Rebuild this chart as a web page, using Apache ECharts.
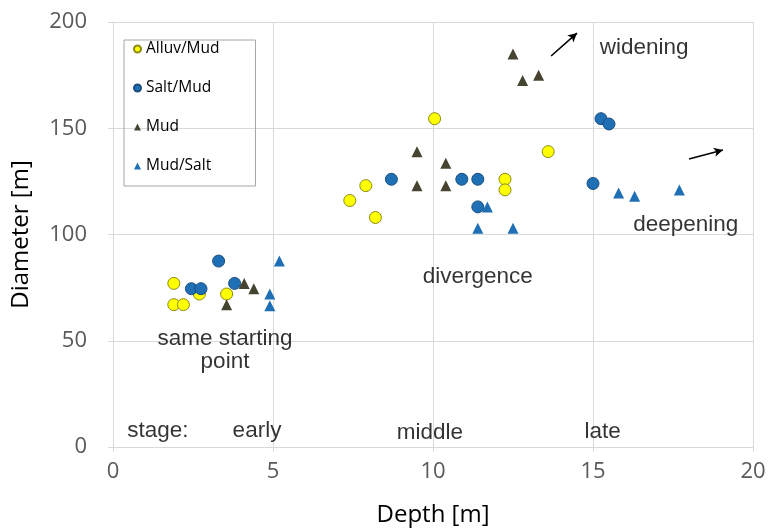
<!DOCTYPE html>
<html>
<head>
<meta charset="utf-8">
<script src="https://cdn.jsdelivr.net/npm/echarts@6/dist/echarts.min.js"></script>
<style>
  html, body { margin: 0; padding: 0; background: #fff; }
  #main { width: 771px; height: 531px; }
</style>
</head>
<body>
<div id="main"></div>
<script>
// data: [depth, diameter]
const alluvMud = [[1.9, 77], [1.9, 67], [2.2, 67], [2.7, 72], [3.55, 72], [7.4, 116], [7.9, 123], [8.2, 108], [10.05, 154.5], [12.25, 126], [12.25, 121], [13.6, 139]];
const saltMud = [[2.45, 74.5], [2.75, 74.5], [3.3, 87.5], [3.8, 77], [8.7, 126], [10.9, 126], [11.4, 126], [11.4, 113], [15.0, 124], [15.25, 154.5], [15.5, 152]];
const mud = [[3.55, 67], [4.1, 77], [4.4, 74.5], [9.5, 139], [10.4, 133.5], [9.5, 123], [10.4, 123], [12.5, 185], [12.8, 172.5], [13.3, 175]];
const mudSalt = [[4.9, 72], [4.9, 66.5], [5.2, 87.5], [11.7, 113], [11.4, 103], [12.5, 103], [15.8, 119.5], [16.3, 118], [17.7, 121]];

// annotation texts and where they sit (data coords)
const noteText = ["widening", "deepening", "divergence", "same starting\npoint", "stage:", "early", "middle", "late"];
const notePos = [[16.6, 188], [17.9, 104.5], [11.4, 80], [3.5, 45.5], [1.4, 7.5], [4.5, 7.5], [9.9, 6.5], [15.3, 7]];

// arrows: [from, to]
const arrows = [[[13.69, 184], [14.5, 194.8]], [[18.0, 135.5], [19.06, 139.8]]];

const myChart = echarts.init(document.getElementById("main"));

const labelFont = "'Open Sans', 'Noto Sans', sans-serif";
const noteFont = "'Liberation Sans', Arial, sans-serif";

const option = {
  animation: false,
  grid: { left: 113, right: 18, top: 22, bottom: 84, outerBoundsMode: "none" },
  legend: {
    orient: "vertical",
    left: 124,
    top: 40,
    data: [
      { name: "Alluv/Mud", icon: "circle" },
      { name: "Salt/Mud", icon: "circle" },
      { name: "Mud", icon: "triangle" },
      { name: "Mud/Salt", icon: "triangle" }
    ],
    itemWidth: 7,
    itemHeight: 7,
    itemGap: 23,
    padding: [1, 36, 12, 9],
    borderColor: "#a6a6a6",
    borderWidth: 1,
    textStyle: { fontFamily: labelFont, fontSize: 15.5, color: "#000", lineHeight: 16 }
  },
  xAxis: {
    type: "value",
    min: 0,
    max: 20,
    interval: 5,
    name: "Depth [m]",
    nameLocation: "middle",
    nameGap: 56,
    nameTextStyle: { fontFamily: labelFont, fontSize: 24, color: "#000" },
    axisLine: { show: true, lineStyle: { color: "#d9d9d9" } },
    axisTick: { show: true, length: 5, lineStyle: { color: "#d9d9d9" } },
    axisLabel: { margin: 14, fontFamily: labelFont, fontSize: 22, color: "#595959" },
    splitLine: { show: true, lineStyle: { color: "#d9d9d9" } }
  },
  yAxis: {
    type: "value",
    min: 0,
    max: 200,
    interval: 50,
    name: "Diameter [m]",
    nameLocation: "middle",
    nameGap: 80,
    nameTextStyle: { fontFamily: labelFont, fontSize: 24, color: "#000" },
    axisLine: { show: true, lineStyle: { color: "#d9d9d9" } },
    axisTick: { show: true, length: 5, lineStyle: { color: "#d9d9d9" } },
    axisLabel: { margin: 26, fontFamily: labelFont, fontSize: 22, color: "#595959" },
    splitLine: { show: true, lineStyle: { color: "#d9d9d9" } }
  },
  series: [
    {
      name: "Alluv/Mud",
      type: "scatter",
      symbol: "circle",
      symbolSize: 12,
      itemStyle: { color: "#ffff00", borderColor: "#8a8a12", borderWidth: 1, opacity: 1 },
      data: alluvMud
    },
    {
      name: "Salt/Mud",
      type: "scatter",
      symbol: "circle",
      symbolSize: 12,
      itemStyle: { color: "#1f6fb5", borderColor: "#1b4e7e", borderWidth: 1, opacity: 1 },
      data: saltMud
    },
    {
      name: "Mud",
      type: "scatter",
      symbol: "triangle",
      symbolSize: 11,
      itemStyle: { color: "#474331", opacity: 1 },
      data: mud
    },
    {
      name: "Mud/Salt",
      type: "scatter",
      symbol: "triangle",
      symbolSize: 11,
      itemStyle: { color: "#1f6fb5", opacity: 1 },
      data: mudSalt
    },
    {
      name: "notes",
      type: "scatter",
      symbolSize: 0,
      silent: true,
      label: {
        show: true,
        position: "inside",
        formatter: (p) => p.name,
        fontFamily: noteFont,
        fontSize: 22.5,
        lineHeight: 23,
        color: "#000",
        align: "center"
      },
      data: noteText.map((t, i) => ({ name: t, value: notePos[i] })),
      markLine: {
        silent: true,
        symbol: ["none", "arrow"],
        symbolSize: [7, 9],
        label: { show: false },
        lineStyle: { color: "#000", width: 1.6, type: "solid" },
        data: arrows.map((a) => [{ coord: a[0] }, { coord: a[1] }])
      }
    }
  ]
};

myChart.setOption(option);
</script>
</body>
</html>
